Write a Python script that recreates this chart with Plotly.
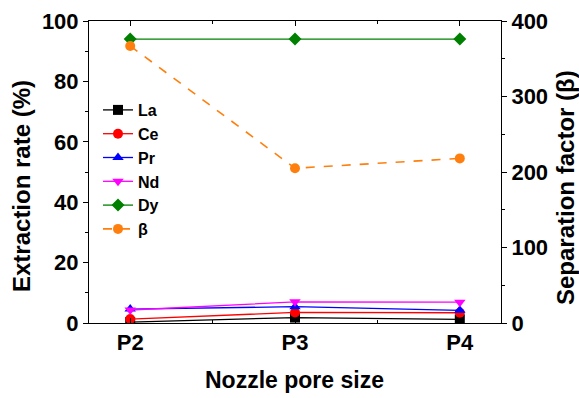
import plotly.graph_objects as go

categories = ["P2", "P3", "P4"]
la = [0.3, 1.8, 1.2]
ce = [1.3, 3.5, 3.4]
pr = [4.6, 5.4, 4.2]
nd = [4.3, 7.0, 6.9]
dy = [94.0, 94.0, 94.0]
beta = [367, 205, 218]

xi = [0, 1, 2]
font = "Liberation Sans, Arial, sans-serif"

fig = go.Figure()
series = [
    ("La", la, "black", "square"),
    ("Ce", ce, "red", "circle"),
    ("Pr", pr, "blue", "triangle-up"),
    ("Nd", nd, "magenta", "triangle-down"),
    ("Dy", dy, "green", "diamond"),
]
for name, vals, col, sym in series:
    fig.add_trace(go.Scatter(x=xi, y=vals, name="<b>%s</b>" % name, mode="lines+markers",
                             line=dict(color=col, width=1.3),
                             marker=dict(symbol=sym, size=10, color=col)))
fig.add_trace(go.Scatter(x=xi, y=beta, name="<b>β</b>", mode="lines+markers", yaxis="y2",
                         line=dict(color="#FF7F0E", width=1.6, dash="dash"),
                         marker=dict(symbol="circle", size=10, color="#FF7F0E")))

L, R, T, B = 89, 78, 21, 75
ph = 398 - T - B
pw = 579 - L - R

def py(pix):
    return (398 - B - pix) / ph

def px(pix):
    return (pix - L) / pw

tickf = dict(size=22, family=font, color="black")

fig.update_layout(
    width=579, height=398,
    margin=dict(l=L, r=R, t=T, b=B, autoexpand=False),
    paper_bgcolor="white", plot_bgcolor="white",
    font=dict(family=font, size=17, color="black"),
    showlegend=True,
    legend=dict(x=px(98), y=py(93), xanchor="left", yanchor="top",
                font=dict(size=16, family=font, color="black"),
                bgcolor="rgba(0,0,0,0)", tracegroupgap=0, itemwidth=30),
    xaxis=dict(range=[-0.25, 2.25], tickmode="array", tickvals=xi,
               ticktext=["<b>%s</b>" % c for c in categories], automargin=False,
               showline=True, linecolor="black", linewidth=1, mirror="ticks",
               ticks="inside", ticklen=5, tickcolor="black", showgrid=False, zeroline=False,
               tickfont=tickf,
               minor=dict(tickvals=[0.5, 1.5], ticks="inside", ticklen=3, tickcolor="black")),
    yaxis=dict(range=[0, 100], tickvals=[0, 20, 40, 60, 80, 100], automargin=False,
               ticktext=["<b>%d</b>" % v for v in [0, 20, 40, 60, 80, 100]],
               showline=True, linecolor="black", linewidth=1,
               ticks="outside", ticklen=5, tickcolor="black", showgrid=False, zeroline=False,
               tickfont=tickf,
               minor=dict(dtick=10, ticks="outside", ticklen=3, tickcolor="black")),
    yaxis2=dict(range=[0, 400], tickvals=[0, 100, 200, 300, 400], automargin=False,
                ticktext=["<b>%d</b>" % v for v in [0, 100, 200, 300, 400]],
                overlaying="y", side="right", anchor="x",
                showline=True, linecolor="black", linewidth=1,
                ticks="outside", ticklen=5, tickcolor="black", showgrid=False, zeroline=False,
                tickfont=tickf,
                minor=dict(dtick=50, ticks="outside", ticklen=3, tickcolor="black")),
    annotations=[
        dict(text="<b>Nozzle pore size</b>", xref="paper", yref="paper",
             x=px(294), y=py(380), xanchor="center", yanchor="middle",
             showarrow=False, font=dict(size=23, family=font, color="black")),
        dict(text="<b>Extraction rate (%)</b>", xref="paper", yref="paper",
             x=px(21), y=py(186), xanchor="center", yanchor="middle",
             textangle=-90, showarrow=False, font=dict(size=24, family=font, color="black")),
        dict(text="<b>Separation factor (β)</b>", xref="paper", yref="paper",
             x=px(565), y=py(188), xanchor="center", yanchor="middle",
             textangle=-90, showarrow=False, font=dict(size=24, family=font, color="black")),
    ],
)

fig.write_html("out.html", config={"displayModeBar": False},
               post_script="document.body.style.margin='0';")
